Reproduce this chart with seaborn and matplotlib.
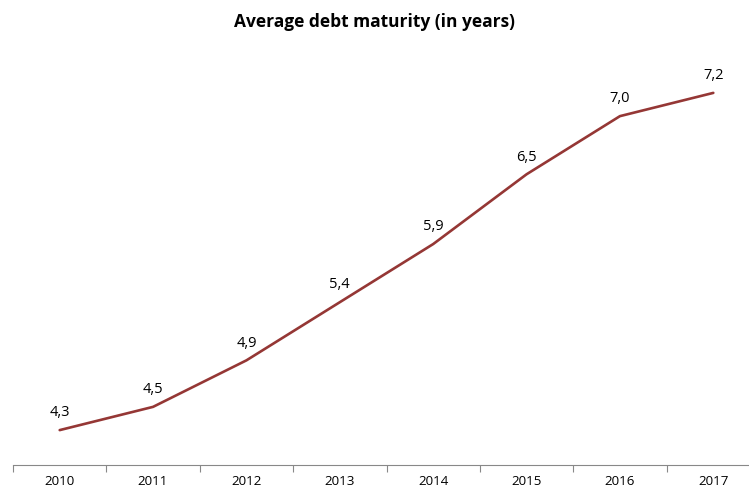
import matplotlib
matplotlib.use("Agg")
import matplotlib.pyplot as plt
import seaborn as sns
import numpy as np
import pandas as pd

years = ["2010", "2011", "2012", "2013", "2014", "2015", "2016", "2017"]
maturity = [4.3, 4.5, 4.9, 5.4, 5.9, 6.5, 7.0, 7.2]
labels = ["4,3", "4,5", "4,9", "5,4", "5,9", "6,5", "7,0", "7,2"]

sns.set_style("white")
plt.rcParams["font.family"] = ["Open Sans", "DejaVu Sans"]
plt.rcParams["text.color"] = "black"
plt.rcParams["xtick.color"] = "black"

df = pd.DataFrame({"year": years, "maturity": maturity})
pos = np.arange(len(years))

fig = plt.figure(figsize=(7.49, 4.90), dpi=100)
# plot area runs a little past the right edge, as in the source
ax = fig.add_axes([13 / 749, 1 - 465 / 490, 747 / 749, (465 - 58) / 490])
sns.lineplot(x=pos, y=df["maturity"], color="#953735", linewidth=1.9, ax=ax)

for x, y, t in zip(pos, maturity, labels):
    ax.annotate(t, (x, y), xytext=(0, 7), textcoords="offset points",
                ha="center", va="bottom", fontsize=10.5, color="black")

ax.set_xlim(-0.5, len(years) - 0.5)
ax.set_ylim(4.0, 7.5)
ax.set_xticks(pos)
ax.set_xticklabels(years, fontsize=9.6, color="black")
ax.set_xticks(np.arange(-0.5, len(years)), minor=True)
ax.tick_params(axis="x", which="major", length=0, pad=7.5)
ax.tick_params(axis="x", which="minor", length=5, color="#888888", width=0.8,
               direction="out", bottom=True)
ax.set_yticks([])
ax.set_xlabel("")
ax.set_ylabel("")
for s in ["top", "right", "left"]:
    ax.spines[s].set_visible(False)
ax.spines["bottom"].set_color("#888888")
ax.spines["bottom"].set_linewidth(0.8)

fig.text(0.5, 1 - 22 / 490, "Average debt maturity (in years)", ha="center",
         va="center", fontsize=12.5, fontweight="bold", color="black")

fig.savefig("out.png", dpi=100)
